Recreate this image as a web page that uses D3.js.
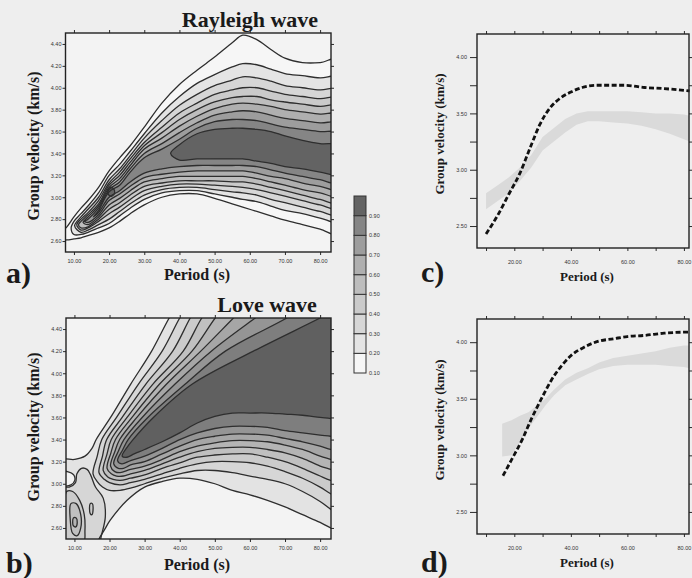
<!DOCTYPE html>
<html><head><meta charset="utf-8">
<script src="https://cdn.jsdelivr.net/npm/d3@7"></script>
<style>
body{margin:0;background:#eeeeee;}
svg{display:block;}
.tick text{font-family:"Liberation Sans",Arial,sans-serif;font-size:5.5px;fill:#333;}
.tick line{stroke:#2a2a2a;stroke-width:1;}
.ttl{font-family:"Liberation Serif","Times New Roman",serif;font-weight:bold;fill:#1a1a1a;}
</style></head><body>
<svg id="fig" width="692" height="578"></svg>
<script>
// === dane ===
const levels = [0.1, 0.2, 0.3, 0.4, 0.5, 0.6, 0.7, 0.8, 0.9];
const levelColors = ["#f6f6f6","#e4e4e4","#d6d6d6","#cacaca","#bdbdbd","#afafaf","#9d9d9d","#858585","#636363"];
const loveColors  = ["#e3e3e3","#d6d6d6","#cbcbcb","#c0c0c0","#b4b4b4","#a6a6a6","#959595","#7e7e7e","#606060"];
const barLabels = [0.1, 0.2, 0.3, 0.4, 0.5, 0.6, 0.7, 0.8, 0.9];

// Rayleigh: okresy i krawędzie konturów (górna / dolna prędkość, km/s)
const periodsA = [6, 8, 10, 12, 14, 17, 20, 23, 26, 30, 35, 40, 45, 50, 55, 58, 62, 66, 70, 75, 80, 86];
const n = null;
const rayUpper = [
  [2.66,2.73,2.82,2.90,2.97,3.09,3.24,3.36,3.47,3.64,3.86,4.03,4.16,4.28,4.41,4.48,4.44,4.35,4.27,4.23,4.23,4.26],
  [n,n,2.78,2.85,2.92,3.04,3.20,3.30,3.42,3.58,3.77,3.92,4.04,4.12,4.19,4.22,4.21,4.17,4.13,4.11,4.09,4.09],
  [n,n,n,2.82,2.89,3.00,3.16,3.26,3.38,3.54,3.70,3.84,3.94,4.02,4.07,4.10,4.09,4.06,4.02,4.00,3.98,3.98],
  [n,n,n,2.80,2.86,2.97,3.13,3.23,3.35,3.50,3.64,3.77,3.86,3.94,3.98,4.00,4.00,3.97,3.94,3.92,3.90,3.90],
  [n,n,n,2.78,2.84,2.94,3.11,3.20,3.32,3.47,3.59,3.71,3.80,3.87,3.91,3.92,3.92,3.89,3.87,3.85,3.83,3.83],
  [n,n,n,n,2.82,2.92,3.09,3.17,3.29,3.44,3.54,3.65,3.74,3.81,3.85,3.86,3.85,3.83,3.80,3.78,3.76,3.75],
  [n,n,n,n,2.80,2.90,3.07,3.14,3.26,3.40,3.49,3.59,3.68,3.75,3.78,3.79,3.78,3.75,3.72,3.70,3.68,3.67],
  [n,n,n,n,n,2.88,3.05,3.11,3.23,3.36,3.44,3.53,3.63,3.69,3.71,3.71,3.70,3.67,3.64,3.62,3.60,3.58],
  [n,n,n,n,n,n,n,n,n,n,n,3.48,3.58,3.62,3.63,3.63,3.62,3.60,3.56,3.52,3.49,3.47]
];
const rayLower = [
  [2.61,2.61,2.62,2.63,2.65,2.68,2.72,2.78,2.85,2.93,3.00,3.03,3.03,2.99,2.94,2.91,2.87,2.83,2.79,2.75,2.71,2.66],
  [n,n,2.66,2.66,2.68,2.72,2.76,2.83,2.90,2.98,3.04,3.06,3.06,3.03,3.00,2.98,2.96,2.92,2.88,2.85,2.81,2.78],
  [n,n,n,2.68,2.70,2.75,2.80,2.87,2.94,3.02,3.07,3.09,3.09,3.07,3.05,3.04,3.02,2.98,2.95,2.91,2.87,2.84],
  [n,n,n,2.70,2.72,2.78,2.85,2.91,2.98,3.06,3.10,3.12,3.12,3.11,3.10,3.09,3.07,3.04,3.01,2.97,2.93,2.90],
  [n,n,n,2.72,2.73,2.80,2.89,2.95,3.02,3.10,3.13,3.15,3.15,3.15,3.14,3.14,3.12,3.09,3.06,3.02,2.98,2.95],
  [n,n,n,n,2.75,2.82,2.93,2.99,3.06,3.14,3.17,3.19,3.19,3.19,3.19,3.19,3.17,3.14,3.11,3.07,3.04,3.01],
  [n,n,n,n,2.77,2.84,2.97,3.03,3.10,3.18,3.21,3.23,3.24,3.24,3.24,3.24,3.22,3.19,3.17,3.13,3.10,3.07],
  [n,n,n,n,n,2.86,3.00,3.06,3.14,3.22,3.26,3.28,3.29,3.29,3.29,3.29,3.28,3.25,3.22,3.19,3.16,3.13],
  [n,n,n,n,n,n,n,n,n,n,n,3.34,3.35,3.35,3.35,3.35,3.33,3.31,3.28,3.26,3.23,3.21]
];
const rayTips = [null,[9.2,2.72],[10.2,2.74],[10.8,2.75],[11.3,2.75],[12.6,2.77],[13.0,2.78],[15.5,2.82],[37.5,3.40]];
const rayBlobLevel = [8];
const rayBlobs = [[[19.6,3.06],[20.3,3.09],[21.2,3.08],[21.6,3.04],[20.8,3.01],[19.9,3.02]]];

// Love: krawędzie konturów jako [okres, prędkość]
const loveUpper = [
  [[6,3.21],[10,3.22],[13,3.25],[15,3.32],[16.2,3.40],[20.3,3.60],[26,3.90],[32,4.20],[37,4.50],[40,4.65],[90,4.7]],
  [[15.3,3.09],[16.5,3.25],[17.8,3.40],[22,3.60],[28.2,3.90],[35,4.20],[40,4.50],[43,4.65],[90,4.7]],
  [[17,3.10],[18,3.25],[19.2,3.40],[23.6,3.60],[30.3,3.90],[38,4.20],[43,4.50],[46,4.65],[90,4.7]],
  [[18.2,3.12],[19.3,3.27],[20.5,3.40],[25,3.60],[32.3,3.90],[41,4.20],[46.3,4.50],[50,4.65],[90,4.7]],
  [[19.3,3.14],[20.4,3.28],[21.7,3.40],[26.4,3.60],[34.2,3.90],[43.5,4.20],[50.1,4.50],[54,4.65],[90,4.7]],
  [[20.3,3.16],[21.5,3.29],[22.9,3.40],[27.8,3.60],[36.2,3.90],[46,4.20],[55.3,4.50],[60,4.65],[90,4.7]],
  [[21.2,3.18],[22.6,3.30],[24.1,3.40],[29.3,3.60],[38.6,3.90],[49,4.20],[61.5,4.50],[68,4.65],[90,4.7]],
  [[22.3,3.21],[23.8,3.31],[25.3,3.40],[30.9,3.60],[41.5,3.90],[53,4.20],[70.5,4.50],[78,4.65],[90,4.7]],
  [[23.6,3.25],[25,3.33],[26.7,3.40],[32.5,3.60],[43.5,3.90],[61,4.20],[80,4.50],[86,4.60],[90,4.7]]
];
const loveLower = [
  [[6,2.40],[16,2.40],[17,2.50],[18.5,2.58],[20.2,2.67],[25,2.85],[30,2.97],[35,3.02],[40,3.05],[45,3.04],[50,3.00],[55,2.94],[60,2.90],[65,2.85],[70,2.79],[75,2.72],[80,2.65],[83,2.60],[90,2.50]],
  [[16.5,3.02],[18,2.97],[20,2.94],[23,2.94],[26,2.96],[30,3.00],[35,3.05],[40,3.09],[45,3.12],[50,3.12],[55,3.10],[60,3.07],[65,3.04],[70,3.00],[75,2.93],[80,2.84],[83,2.77],[90,2.65]],
  [[18.5,3.04],[20,3.01],[23,2.99],[26,3.01],[30,3.04],[35,3.09],[40,3.14],[45,3.18],[50,3.20],[55,3.20],[60,3.19],[65,3.16],[70,3.11],[75,3.05],[80,2.97],[83,2.91],[90,2.80]],
  [[19.5,3.06],[21,3.04],[23,3.03],[26,3.05],[30,3.08],[35,3.14],[40,3.19],[45,3.24],[50,3.26],[55,3.27],[60,3.27],[65,3.24],[70,3.20],[75,3.14],[80,3.07],[83,3.03],[90,2.95]],
  [[20.5,3.09],[22,3.07],[24,3.07],[26,3.09],[30,3.12],[35,3.18],[40,3.24],[45,3.29],[50,3.32],[55,3.33],[60,3.33],[65,3.31],[70,3.28],[75,3.23],[80,3.16],[83,3.13],[90,3.06]],
  [[21.5,3.11],[23,3.10],[26,3.13],[30,3.16],[35,3.22],[40,3.29],[45,3.34],[50,3.37],[55,3.39],[60,3.39],[65,3.38],[70,3.35],[75,3.31],[80,3.25],[83,3.22],[90,3.15]],
  [[22.5,3.14],[24,3.14],[26,3.17],[30,3.20],[35,3.27],[40,3.34],[45,3.40],[50,3.43],[55,3.45],[60,3.45],[65,3.44],[70,3.41],[75,3.38],[80,3.34],[83,3.31],[90,3.25]],
  [[23.5,3.18],[26,3.21],[30,3.25],[35,3.32],[40,3.40],[45,3.46],[50,3.50],[55,3.52],[60,3.52],[65,3.51],[70,3.48],[75,3.46],[80,3.44],[83,3.43],[90,3.40]],
  [[25,3.24],[27,3.27],[30,3.31],[35,3.38],[40,3.46],[45,3.55],[50,3.61],[55,3.64],[60,3.64],[65,3.64],[70,3.63],[75,3.62],[80,3.60],[83,3.59],[90,3.56]]
];
// plamy w lewym dolnym rogu (poziom -1 = wcięcie poniżej 0.10)
const loveBlobLevel = [1, -1, 2, 3, 4, 2];
const loveBlobs = [
  [[5,2.97],[8.5,2.97],[10.3,3.01],[10.7,3.09],[12,3.14],[13.6,3.13],[14.6,3.08],[16,2.97],[18.2,2.87],[18.8,2.70],[17.6,2.52],[16.7,2.40],[5,2.40]],
  [[5,3.11],[8,3.11],[9.8,3.08],[10.1,3.03],[9,2.99],[5,2.99]],
  [[7.8,2.93],[9.5,2.93],[11.5,2.85],[12.8,2.72],[13,2.58],[12.5,2.46],[7.5,2.46],[7.2,2.70]],
  [[9,2.82],[10.5,2.82],[11.8,2.72],[11.8,2.60],[10.8,2.53],[9.5,2.55],[8.8,2.68]],
  [[9.7,2.69],[10.5,2.69],[10.8,2.65],[10.4,2.61],[9.7,2.62],[9.5,2.65]],
  [[14.5,2.82],[15.1,2.82],[15.3,2.76],[15.0,2.72],[14.5,2.73]]
];

// c) Rayleigh: krzywa modelowa i pasmo pomiarów
const periodsC = [10, 14, 18, 22, 26, 29, 33, 36, 40, 44, 49, 54, 59, 66, 73, 82];
const velC = [2.43, 2.59, 2.78, 2.97, 3.22, 3.40, 3.56, 3.63, 3.69, 3.73, 3.75, 3.75, 3.75, 3.73, 3.72, 3.70];
const bandPeriodsC = [10, 14, 18, 22, 26, 30, 34, 38, 42, 46, 50, 55, 60, 65, 70, 75, 80, 82];
const bandHighC = [2.79, 2.86, 2.93, 3.02, 3.13, 3.29, 3.37, 3.45, 3.50, 3.52, 3.52, 3.52, 3.52, 3.51, 3.50, 3.50, 3.49, 3.48];
const bandLowC  = [2.65, 2.72, 2.79, 2.90, 3.02, 3.17, 3.25, 3.33, 3.40, 3.43, 3.43, 3.42, 3.41, 3.39, 3.36, 3.32, 3.27, 3.25];

// d) Love
const periodsD = [16, 19, 23, 26, 30, 33, 37, 40, 45, 50, 55, 60, 66, 73, 82];
const velD = [2.82, 2.96, 3.15, 3.32, 3.52, 3.66, 3.80, 3.88, 3.96, 4.01, 4.03, 4.05, 4.06, 4.08, 4.09];
const bandPeriodsD = [15.7, 19, 22, 25, 28, 31, 34, 38, 42, 46, 50, 55, 60, 65, 70, 75, 80, 82];
const bandHighD = [3.28, 3.31, 3.35, 3.38, 3.44, 3.50, 3.58, 3.67, 3.73, 3.77, 3.82, 3.86, 3.88, 3.90, 3.92, 3.95, 3.97, 3.97];
const bandLowD  = [2.99, 3.00, 3.12, 3.24, 3.34, 3.44, 3.53, 3.62, 3.67, 3.72, 3.76, 3.79, 3.80, 3.80, 3.80, 3.79, 3.78, 3.77];

// osie
const ftanXTicks = [10, 20, 30, 40, 50, 60, 70, 80];
const ftanYTicks = [2.6, 2.8, 3.0, 3.2, 3.4, 3.6, 3.8, 4.0, 4.2, 4.4];
const dispXTicks = [10, 20, 30, 40, 50, 60, 70, 80];
const dispXLabels = [20, 40, 60, 80];
const dispYTicks = [2.5, 2.75, 3.0, 3.25, 3.5, 3.75, 4.0];
const dispYLabels = [2.5, 3.0, 3.5, 4.0];

const svg = d3.select("#fig");
const f2 = d3.format(".2f");
const plotBg = "#f3f3f3";

function axes(g, x, y, xt, xl, yt, yl, o) {
  const [yb, yt0] = y.range(), [xl0, xr] = x.range();
  const lab = (list) => d => list.some(v => Math.abs(v - d) < 1e-9) ? f2(d) : "";
  g.append("g").attr("transform", `translate(0,${yb})`)
    .call(d3.axisBottom(x).tickValues(xt).tickSize(3).tickPadding(o.px).tickFormat(lab(xl)));
  g.append("g").attr("transform", `translate(0,${yt0})`)
    .call(d3.axisTop(x).tickValues(xt).tickSize(3).tickFormat(""));
  g.append("g").attr("transform", `translate(${xl0},0)`)
    .call(d3.axisLeft(y).tickValues(yt).tickSize(o.ly).tickPadding(o.py).tickFormat(lab(yl)));
  g.append("g").attr("transform", `translate(${xr},0)`)
    .call(d3.axisRight(y).tickValues(yt).tickSize(3).tickFormat(""));
  g.selectAll(".domain").remove();
  g.append("rect").attr("x", xl0).attr("y", yt0).attr("width", xr - xl0).attr("height", yb - yt0)
    .attr("fill", "none").attr("stroke", "#222").attr("stroke-width", 1.4);
}

function label(txt, x, y, size, rot, anchor) {
  const t = svg.append("text").attr("class", "ttl").attr("font-size", size)
    .attr("text-anchor", anchor || "middle").text(txt);
  if (rot) t.attr("transform", `translate(${x},${y}) rotate(-90)`);
  else t.attr("x", x).attr("y", y);
}

function contourPanel(id, x, y, rings, colors) {
  const g = svg.append("g");
  const [yb, yt0] = y.range(), [xl0, xr] = x.range();
  g.append("clipPath").attr("id", id).append("rect")
    .attr("x", xl0).attr("y", yt0).attr("width", xr - xl0).attr("height", yb - yt0);
  g.append("rect").attr("x", xl0).attr("y", yt0).attr("width", xr - xl0).attr("height", yb - yt0).attr("fill", plotBg);
  const line = d3.line().x(d => x(d[0])).y(d => y(d[1])).curve(d3.curveCatmullRomClosed.alpha(0.5));
  const c = g.append("g").attr("clip-path", `url(#${id})`);
  c.selectAll("path.fill").data(rings).enter().append("path")
    .attr("d", r => line(r.pts)).attr("fill", r => r.k < 0 ? plotBg : colors[r.k]);
  c.selectAll("path.line").data(rings).enter().append("path")
    .attr("d", r => line(r.pts)).attr("fill", "none").attr("stroke", "#2e2e2e").attr("stroke-width", 1.3);
  axes(g, x, y, ftanXTicks, ftanXTicks, ftanYTicks, ftanYTicks, {px: 4, py: 1, ly: 3});
}

// === a) Rayleigh ===
const xA = d3.scaleLinear().domain([7.6, 83.1]).range([65.5, 331]);
const yA = d3.scaleLinear().domain([2.5, 4.5]).range([252, 33]);
const ringsA = levels.map((lv, k) => {
  const up = periodsA.map((t, i) => [t, rayUpper[k][i]]).filter(p => p[1] != null);
  const lo = periodsA.map((t, i) => [t, rayLower[k][i]]).filter(p => p[1] != null).reverse();
  return {k, z: k, pts: (rayTips[k] ? [rayTips[k]] : []).concat(up, lo)};
}).concat(rayBlobs.map((b, i) => ({k: rayBlobLevel[i], z: rayBlobLevel[i] + 0.5, pts: b})));
ringsA.sort((p, q) => p.z - q.z);
contourPanel("clipA", xA, yA, ringsA, levelColors);

// === b) Love ===
const xB = d3.scaleLinear().domain([7.6, 83.1]).range([66, 331]);
const yB = d3.scaleLinear().domain([2.5, 4.5]).range([539, 318]);
const ringsB = levels.map((lv, k) => ({k, z: k, pts: loveUpper[k].concat(loveLower[k].slice().reverse())}))
  .concat(loveBlobs.map((b, i) => ({k: loveBlobLevel[i], z: loveBlobLevel[i] < 0 ? 0.5 : loveBlobLevel[i] + 0.5, pts: b})));
ringsB.sort((p, q) => p.z - q.z);
contourPanel("clipB", xB, yB, ringsB, loveColors);

// === skala barw ===
const yBar = d3.scaleLinear().domain([0.1, 1.0]).range([373, 196]);
const gBar = svg.append("g");
gBar.selectAll("rect").data(levels).enter().append("rect")
  .attr("x", 354).attr("width", 12)
  .attr("y", d => yBar(d + 0.1)).attr("height", d => yBar(d) - yBar(d + 0.1))
  .attr("fill", (d, i) => levelColors[i]).attr("stroke", "#333").attr("stroke-width", 1);
gBar.selectAll("text").data(barLabels).enter().append("text")
  .attr("x", 369).attr("y", d => yBar(d) + 2)
  .attr("font-family", "Liberation Sans, Arial, sans-serif").attr("font-size", 5.5).attr("fill", "#333")
  .text(d => f2(d));

// === c) i d) krzywe dyspersji ===
function dispPanel(x, y, bandT, bandLo, bandHi, T, V) {
  const g = svg.append("g");
  g.append("path").datum(bandT.map((t, i) => [t, bandLo[i], bandHi[i]]))
    .attr("d", d3.area().x(d => x(d[0])).y0(d => y(d[1])).y1(d => y(d[2])))
    .attr("fill", "#dadada");
  g.append("path").datum(T.map((t, i) => [t, V[i]]))
    .attr("d", d3.line().x(d => x(d[0])).y(d => y(d[1])).curve(d3.curveMonotoneX))
    .attr("fill", "none").attr("stroke", "#111").attr("stroke-width", 2.8).attr("stroke-dasharray", "5,2.5");
  axes(g, x, y, dispXTicks, dispXLabels, dispYTicks, dispYLabels, {px: 9, py: 3, ly: 7});
}
const xC = d3.scaleLinear().domain([6.8, 81.8]).range([477, 689]);
const yC = d3.scaleLinear().domain([2.305, 4.205]).range([248, 34]);
dispPanel(xC, yC, bandPeriodsC, bandLowC, bandHighC, periodsC, velC);
const yD = d3.scaleLinear().domain([2.305, 4.205]).range([534, 319]);
dispPanel(xC, yD, bandPeriodsD, bandLowD, bandHighD, periodsD, velD);

// === napisy ===
label("Rayleigh wave", 250, 26.5, 22);
label("Love wave", 267, 312, 22);
label("Group velocity (km/s)", 39, 146, 16, true);
label("Group velocity (km/s)", 39, 427, 16, true);
label("Period (s)", 197, 280, 16);
label("Period (s)", 197, 570, 16);
label("a)", 6, 283, 30, false, "start");
label("b)", 6, 573, 30, false, "start");
label("Group velocity (km/s)", 444, 134, 13, true);
label("Group velocity (km/s)", 444, 420, 13, true);
label("Period (s)", 587, 281, 13);
label("Period (s)", 587, 567, 13);
label("c)", 421, 282, 30, false, "start");
label("d)", 421, 572, 30, false, "start");
</script></body></html>
